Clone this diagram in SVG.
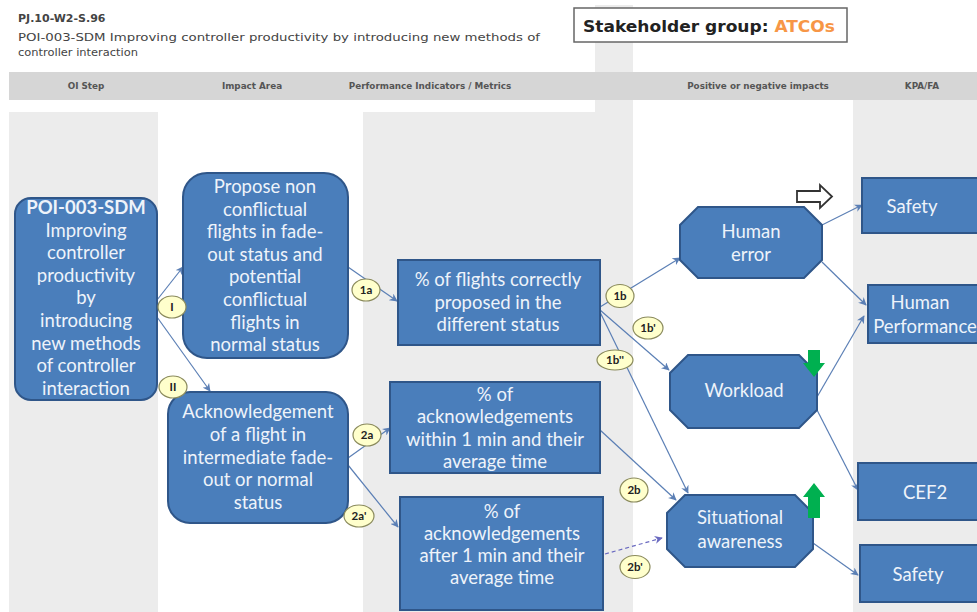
<svg xmlns="http://www.w3.org/2000/svg" width="977" height="612" viewBox="0 0 977 612">
  <style>
    .col { fill: #ececec; }
    .hdr { font-family: "DejaVu Sans", "Liberation Sans", sans-serif; font-size: 8.8px; font-weight: bold; fill: #555; text-anchor: middle; }
    .title { font-family: "DejaVu Sans", "Liberation Sans", sans-serif; font-size: 11px; fill: #444; }
    .box { fill: #4a7ebb; stroke: #2f5689; stroke-width: 2; }
    .nt { font-family: Lato, "Liberation Sans", sans-serif; font-size: 18.5px; fill: #eef3fa; text-anchor: middle; }
    .lbl ellipse { fill: #ffffcc; stroke: #8a8a5c; stroke-width: 1.2; }
    .lbl text { font-family: Lato, "Liberation Sans", sans-serif; font-size: 11.5px; font-weight: bold; fill: #222; text-anchor: middle; }
    .conn { stroke: #5b7fb5; stroke-width: 1.2; fill: none; marker-end: url(#ah); }
    .dash { stroke: #6a6ac0; stroke-dasharray: 4 3; marker-end: url(#ahp); }
  </style>
  <defs>
    <marker id="ah" viewBox="0 0 10 10" refX="9" refY="5" markerWidth="8" markerHeight="8" markerUnits="userSpaceOnUse" orient="auto">
      <path d="M0,0 L10,5 L0,10 L3,5 Z" fill="#5b7fb5"/>
    </marker>
    <marker id="ahp" viewBox="0 0 10 10" refX="9" refY="5" markerWidth="8" markerHeight="8" markerUnits="userSpaceOnUse" orient="auto">
      <path d="M0,0 L10,5 L0,10 L3,5 Z" fill="#6a6ac0"/>
    </marker>
  </defs>

  <!-- page background and column bands -->
  <rect width="977" height="612" fill="#ffffff"/>
  <rect class="col" x="9" y="112" width="149" height="500"/>
  <rect class="col" x="363" y="112" width="270" height="500"/>
  <rect class="col" x="595" y="5" width="38" height="107"/>
  <rect class="col" x="853" y="100" width="124" height="512"/>

  <!-- header bar -->
  <rect x="9" y="72" width="968" height="28" fill="#d6d6d6"/>
  <text class="hdr" x="86" y="89">OI Step</text>
  <text class="hdr" x="252" y="89">Impact Area</text>
  <text class="hdr" x="430" y="89">Performance Indicators / Metrics</text>
  <text class="hdr" x="758" y="89">Positive or negative impacts</text>
  <text class="hdr" x="922" y="89">KPA/FA</text>

  <!-- title -->
  <text class="title" x="18" y="22" font-weight="bold" fill="#222">PJ.10-W2-S.96</text>
  <text class="title" x="18" y="41" textLength="522" lengthAdjust="spacingAndGlyphs">POI-003-SDM Improving controller productivity by introducing new methods of</text>
  <text class="title" x="18" y="56" textLength="120" lengthAdjust="spacingAndGlyphs">controller interaction</text>

  <!-- stakeholder box -->
  <g id="stakeholder">
    <rect x="574" y="8" width="273" height="34" fill="#ffffff" stroke="#666" stroke-width="1.5"/>
    <text x="583" y="32" font-family="'DejaVu Sans', 'Liberation Sans', sans-serif" font-size="15" font-weight="bold" fill="#222" textLength="252" lengthAdjust="spacingAndGlyphs">Stakeholder group: <tspan fill="#f79646">ATCOs</tspan></text>
  </g>

  <!-- connectors -->
  <g id="connectors">
    <line class="conn" x1="157" y1="300" x2="183" y2="267"/>
    <line class="conn" x1="157" y1="317" x2="210" y2="391"/>
    <line class="conn" x1="348" y1="267" x2="397" y2="301"/>
    <line class="conn" x1="348" y1="458" x2="390" y2="428"/>
    <line class="conn" x1="348" y1="465" x2="398" y2="527"/>
    <line class="conn" x1="600" y1="307" x2="680" y2="258"/>
    <line class="conn" x1="600" y1="310" x2="669" y2="370"/>
    <line class="conn" x1="600" y1="312" x2="688" y2="493"/>
    <line class="conn" x1="600" y1="430" x2="676" y2="500"/>
    <line class="conn dash" x1="605" y1="554" x2="662" y2="538"/>
    <line class="conn" x1="822" y1="225" x2="862" y2="205"/>
    <line class="conn" x1="822" y1="262" x2="866" y2="305"/>
    <line class="conn" x1="817" y1="397" x2="864" y2="316"/>
    <line class="conn" x1="817" y1="410" x2="858" y2="490"/>
    <line class="conn" x1="813" y1="543" x2="858" y2="575"/>
  </g>

  <!-- OI step -->
  <g id="oi-step">
    <rect class="box" x="15" y="198" width="142" height="202" rx="16"/>
    <text class="nt" x="86" y="214" font-weight="bold">POI-003-SDM</text>
    <text class="nt" x="86" y="237">Improving</text>
    <text class="nt" x="86" y="259">controller</text>
    <text class="nt" x="86" y="282">productivity</text>
    <text class="nt" x="86" y="304">by</text>
    <text class="nt" x="86" y="327">introducing</text>
    <text class="nt" x="86" y="350">new methods</text>
    <text class="nt" x="86" y="372">of controller</text>
    <text class="nt" x="86" y="395">interaction</text>
  </g>

  <!-- impact areas -->
  <g id="impact-propose">
    <rect class="box" x="183" y="173" width="165" height="185" rx="24"/>
    <text class="nt" x="265" y="193">Propose non</text>
    <text class="nt" x="265" y="216">conflictual</text>
    <text class="nt" x="265" y="238">flights in fade-</text>
    <text class="nt" x="265" y="261">out status and</text>
    <text class="nt" x="265" y="283">potential</text>
    <text class="nt" x="265" y="306">conflictual</text>
    <text class="nt" x="265" y="329">flights in</text>
    <text class="nt" x="265" y="351">normal status</text>
  </g>
  <g id="impact-ack">
    <rect class="box" x="168" y="392" width="180" height="131" rx="22"/>
    <text class="nt" x="258" y="418">Acknowledgement</text>
    <text class="nt" x="258" y="441">of a flight in</text>
    <text class="nt" x="258" y="464">intermediate fade-</text>
    <text class="nt" x="258" y="486">out or normal</text>
    <text class="nt" x="258" y="509">status</text>
  </g>

  <!-- metrics -->
  <g id="metric-proposed">
    <rect class="box" x="398" y="260" width="202" height="85"/>
    <text class="nt" x="498" y="286">% of flights correctly</text>
    <text class="nt" x="498" y="309">proposed in the</text>
    <text class="nt" x="498" y="331">different status</text>
  </g>
  <g id="metric-within">
    <rect class="box" x="390" y="382" width="210" height="91"/>
    <text class="nt" x="495" y="401">% of</text>
    <text class="nt" x="495" y="423">acknowledgements</text>
    <text class="nt" x="495" y="446">within 1 min and their</text>
    <text class="nt" x="495" y="468">average time</text>
  </g>
  <g id="metric-after">
    <rect class="box" x="400" y="497" width="203" height="113"/>
    <text class="nt" x="502" y="518">% of</text>
    <text class="nt" x="502" y="540">acknowledgements</text>
    <text class="nt" x="502" y="562">after 1 min and their</text>
    <text class="nt" x="502" y="584">average time</text>
  </g>

  <!-- impacts -->
  <g id="human-error">
    <polygon class="box" points="698,207 804,207 822,225 822,260 804,278 698,278 680,260 680,225"/>
    <text class="nt" x="751" y="238">Human</text>
    <text class="nt" x="751" y="261">error</text>
  </g>
  <g id="workload">
    <polygon class="box" points="688,355 799,355 817,373 817,410 799,428 688,428 670,410 670,373"/>
    <text class="nt" x="744" y="397">Workload</text>
  </g>
  <g id="situational-awareness">
    <polygon class="box" points="685,495 795,495 813,513 813,549 795,567 685,567 667,549 667,513"/>
    <text class="nt" x="740" y="524">Situational</text>
    <text class="nt" x="740" y="548">awareness</text>
  </g>

  <!-- KPA / FA -->
  <g id="kpa-safety-1">
    <rect class="box" x="862" y="178" width="130" height="55"/>
    <text class="nt" x="912" y="213">Safety</text>
  </g>
  <g id="kpa-human-performance">
    <rect class="box" x="868" y="285" width="130" height="58"/>
    <text class="nt" x="920" y="309">Human</text>
    <text class="nt" x="925" y="333">Performance</text>
  </g>
  <g id="kpa-cef2">
    <rect class="box" x="858" y="463" width="130" height="57"/>
    <text class="nt" x="925" y="499">CEF2</text>
  </g>
  <g id="kpa-safety-2">
    <rect class="box" x="860" y="545" width="130" height="57"/>
    <text class="nt" x="918" y="581">Safety</text>
  </g>

  <!-- impact direction symbols -->
  <g id="neutral-arrow">
    <path d="M797,191 L820,191 L820,185 L832,196.5 L820,208 L820,202 L797,202 Z" fill="#ffffff" stroke="#333" stroke-width="1.8"/>
  </g>
  <g id="decrease-arrow">
    <path d="M808,350 L820,350 L820,363 L825,363 L814,377 L803,363 L808,363 Z" fill="#00b050"/>
  </g>
  <g id="increase-arrow">
    <path d="M808,518 L820,518 L820,497 L825,497 L814,483 L803,497 L808,497 Z" fill="#00b050"/>
  </g>

  <!-- link labels -->
  <g class="lbl" id="label-I"><ellipse cx="172" cy="307" rx="14" ry="11"/><text x="172" y="311">I</text></g>
  <g class="lbl" id="label-II"><ellipse cx="173" cy="387" rx="14" ry="11"/><text x="173" y="391">II</text></g>
  <g class="lbl" id="label-1a"><ellipse cx="366" cy="290" rx="14" ry="11"/><text x="366" y="294">1a</text></g>
  <g class="lbl" id="label-1b"><ellipse cx="620" cy="296" rx="14" ry="11.5"/><text x="620" y="300">1b</text></g>
  <g class="lbl" id="label-1b1"><ellipse cx="648" cy="328" rx="15" ry="11"/><text x="648" y="332">1b'</text></g>
  <g class="lbl" id="label-1b2"><ellipse cx="615" cy="360" rx="18" ry="10"/><text x="615" y="364">1b''</text></g>
  <g class="lbl" id="label-2a"><ellipse cx="367" cy="435" rx="14" ry="11"/><text x="367" y="439">2a</text></g>
  <g class="lbl" id="label-2a1"><ellipse cx="359" cy="516" rx="15" ry="11"/><text x="359" y="520">2a'</text></g>
  <g class="lbl" id="label-2b"><ellipse cx="634" cy="490" rx="14" ry="12"/><text x="634" y="494">2b</text></g>
  <g class="lbl" id="label-2b1"><ellipse cx="635" cy="567" rx="15" ry="11.5"/><text x="635" y="571">2b'</text></g>
</svg>
